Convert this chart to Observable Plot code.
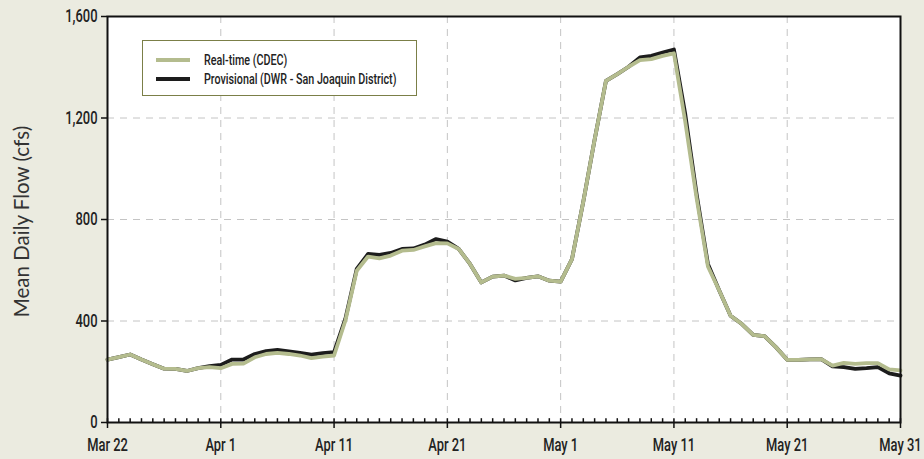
<!DOCTYPE html>
<html>
<head>
<meta charset="utf-8">
<script src="https://cdn.jsdelivr.net/npm/d3@7"></script>
<script src="https://cdn.jsdelivr.net/npm/@observablehq/plot@0.6"></script>
<style>
  html, body { margin: 0; padding: 0; background: #ebebe0; }
  #wrap { position: relative; width: 924px; height: 459px; overflow: hidden; }
  #legend {
    position: absolute; left: 142px; top: 40px; width: 273px; height: 54px;
    background: #fff; border: 1.5px solid #7b7f47;
    font-family: Roboto, "Noto Sans", sans-serif; font-weight: 500;
    font-size: 14.5px; color: #222;
  }
  .item { position: absolute; left: 13px; height: 16px; display: flex; align-items: center; white-space: nowrap; }
  .sw { width: 34px; height: 4px; margin-right: 14px; flex: none; }
  .lt { display: inline-block; transform: scaleX(0.74); transform-origin: left center; }
</style>
</head>
<body>
<div id="wrap"></div>
<script>
// Categories: daily dates from Mar 22 to May 31
const startDate = "2011-03-22";
const endDate = "2011-05-31";
const seriesNames = ["Real-time (CDEC)", "Provisional (DWR - San Joaquin District)"];

// Real-time (CDEC) mean daily flow, cfs
const realtime = [
  248, 258, 268, 248, 230, 212, 211, 203, 214, 218,
  214, 231, 232, 257, 270, 274, 270, 264, 254, 260,
  264, 402, 598, 654, 647, 658, 677, 680, 694, 707,
  706, 684, 625, 552, 575, 579, 566, 570, 576, 559,
  555, 644, 870, 1115, 1346, 1373, 1402, 1428, 1432, 1445,
  1455, 1185, 885, 615, 520, 421, 388, 345, 340, 297,
  247, 247, 249, 250, 224, 235, 231, 234, 234, 209,
  205
];

// Provisional (DWR - San Joaquin District) mean daily flow, cfs
const provisional = [
  248, 258, 268, 248, 230, 212, 211, 203, 214, 222,
  227, 248, 248, 270, 281, 286, 280, 274, 267, 273,
  277, 409, 605, 664, 661, 668, 684, 686, 701, 723,
  713, 684, 625, 552, 575, 579, 560, 570, 576, 559,
  555, 644, 870, 1115, 1346, 1373, 1402, 1439, 1445, 1458,
  1470, 1215, 900, 625, 520, 421, 388, 345, 340, 297,
  247, 247, 249, 250, 221, 218, 211, 214, 218, 194,
  185
];

const yTicks = [0, 400, 800, 1200, 1600];
const xTickLabels = ["Mar 22", "Apr 1", "Apr 11", "Apr 21", "May 1", "May 11", "May 21", "May 31"];
const yLabel = "Mean Daily Flow (cfs)";

const colors = { real: "#b4bc8e", prov: "#1c1c1c" };

const t0 = new Date(startDate + "T00:00:00Z");
const t1 = new Date(endDate + "T00:00:00Z");
const days = d3.utcDay.range(t0, d3.utcDay.offset(t1, 1));
const realData = days.map((d, i) => ({ date: d, value: realtime[i] }));
const provData = days.map((d, i) => ({ date: d, value: provisional[i] }));
const parseTick = d3.utcParse("%b %d %Y");
const xTicks = xTickLabels.map(s => parseTick(s + " 2011"));
const fmt = d3.format(",");

const font = 'Roboto, "Noto Sans", sans-serif';

const chart = Plot.plot({
  width: 924,
  height: 459,
  marginLeft: 107,
  marginRight: 24,
  marginTop: 16,
  marginBottom: 37,
  style: { background: "transparent", fontFamily: font, fontSize: "18px", color: "#222" },
  x: { type: "utc", domain: [t0, t1] },
  y: { domain: [0, 1600] },
  marks: [
    Plot.frame({ fill: "white", stroke: "none" }),
    Plot.gridY(yTicks.slice(1, -1), { stroke: "#c4c4c4", strokeOpacity: 1, strokeDasharray: "7,6" }),
    Plot.gridX(xTicks.slice(1, -1), { stroke: "#c4c4c4", strokeOpacity: 1, strokeDasharray: "7,6" }),
    Plot.ruleX(days, { x: d => d, y1: 0, y2: 15, stroke: "#111", strokeWidth: 1.5 }),
    Plot.line(provData, { x: "date", y: "value", stroke: colors.prov, strokeWidth: 3.8, strokeLinejoin: "round" }),
    Plot.line(realData, { x: "date", y: "value", stroke: colors.real, strokeWidth: 3.8, strokeLinejoin: "round" }),
    Plot.axisY({ ticks: yTicks, tickFormat: d => fmt(d), tickSize: 6, tickPadding: 4, label: null, fontSize: 18, fontWeight: 500, stroke: "#111", strokeWidth: 1.5 }),
    Plot.axisX({ ticks: xTicks, tickFormat: (d, i) => xTickLabels[i], tickSize: 6, tickPadding: 9, label: null, fontSize: 19, fontWeight: 500, stroke: "#111", strokeWidth: 1.5 }),
    Plot.frame({ stroke: "#111", strokeWidth: 2 }),
    Plot.text([yLabel], { frameAnchor: "left", textAnchor: "middle", dx: -85, dy: 2, rotate: -90, fontSize: 20.5, fontFamily: "Lato, 'Open Sans', sans-serif", fill: "#333" })
  ]
});

// condense the axis tick labels horizontally (the reference uses a condensed face)
function condense(selector, k) {
  d3.select(chart).selectAll(selector).each(function () {
    const t = this.getAttribute("transform");
    if (t) {
      this.setAttribute("transform", `${t} scale(${k},1)`);
    } else {
      const x = this.getAttribute("x") || "0";
      this.setAttribute("x", "0");
      this.setAttribute("transform", `translate(${x},0) scale(${k},1)`);
    }
  });
}
condense('g[aria-label="y-axis tick label"] text', 0.72);
condense('g[aria-label="x-axis tick label"] text', 0.68);

const wrap = document.getElementById("wrap");
wrap.appendChild(chart);

const legend = document.createElement("div");
legend.id = "legend";
legend.innerHTML =
  `<div class="item" style="top:11px"><div class="sw" style="background:${colors.real}"></div><span class="lt">${seriesNames[0]}</span></div>` +
  `<div class="item" style="top:30px"><div class="sw" style="background:${colors.prov}"></div><span class="lt">${seriesNames[1]}</span></div>`;
wrap.appendChild(legend);
</script>
</body>
</html>
